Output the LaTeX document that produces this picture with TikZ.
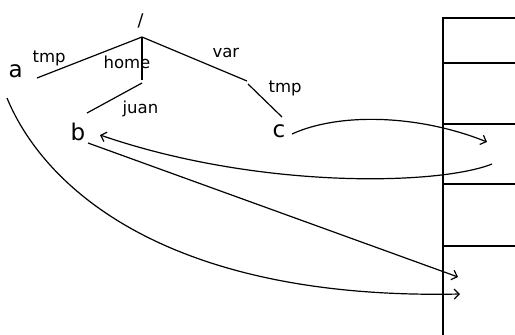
\documentclass[tikz,border=0pt]{standalone}
\usepackage{fontspec}
\setmainfont{DejaVu Sans}
\usetikzlibrary{arrows.meta}
\begin{document}
\begin{tikzpicture}[x=1pt,y=-1pt,line width=1.2pt,
  big/.style={inner sep=0pt,anchor=base west,font=\fontsize{23}{23}\selectfont},
  lbl/.style={inner sep=0pt,anchor=base west,font=\fontsize{16.5}{16.5}\selectfont},
  arr/.style={-{Straight Barb[length=5pt,width=10pt]}}]
\useasboundingbox (0,0) rectangle (515,335);
% texts
\node[inner sep=0pt,anchor=base west,font=\fontsize{17.5}{17.5}\selectfont] (slash) at (137,26) {/};
\node[big] (a) at (8,77) {a};
\node[big] (b) at (70,140) {b};
\node[big] (c) at (272,137) {c};
\node[lbl] (tmpA) at (32,62) {tmp};
\node[lbl] (home) at (103,68) {home};
\node[lbl] (var) at (212,57) {var};
\node[lbl] (tmpB) at (268,92.5) {tmp};
\node[lbl] (juan) at (122,113) {juan};
% tree
\coordinate (root) at (142,37);
\coordinate (t1) at (37,78);
\coordinate (h1) at (142,80);
\coordinate (j0) at (142,83);
\coordinate (j1) at (87,113);
\coordinate (v1) at (247,81);
\coordinate (u0) at (248,84);
\coordinate (u1) at (282,117);
\draw (root) -- (t1);
\draw (root) -- (h1);
\draw (j0) -- (j1);
\draw (root) -- (v1);
\draw (u0) -- (u1);
% memory block
\draw (515,18) -- (443,18) -- (443,335);
\foreach \yy in {63,124,184,246} \draw (443,\yy) -- (515,\yy);
% arrows
\coordinate (cs) at (292,134);
\coordinate (ce) at (487,142);
\coordinate (rs) at (492,164);
\coordinate (re) at (100,135);
\coordinate (bs) at (88,143);
\coordinate (be) at (458,277);
\coordinate (as) at (7,98);
\coordinate (ae) at (460,294);
\draw[arr] (cs) .. controls (340,112) and (420,115) .. (ce);
\draw[arr] (rs) .. controls (440,185) and (260,190) .. (re);
\draw[arr] (bs) -- (be);
\draw[arr] (as) .. controls (45,190) and (170,300) .. (ae);
\end{tikzpicture}
\end{document}
